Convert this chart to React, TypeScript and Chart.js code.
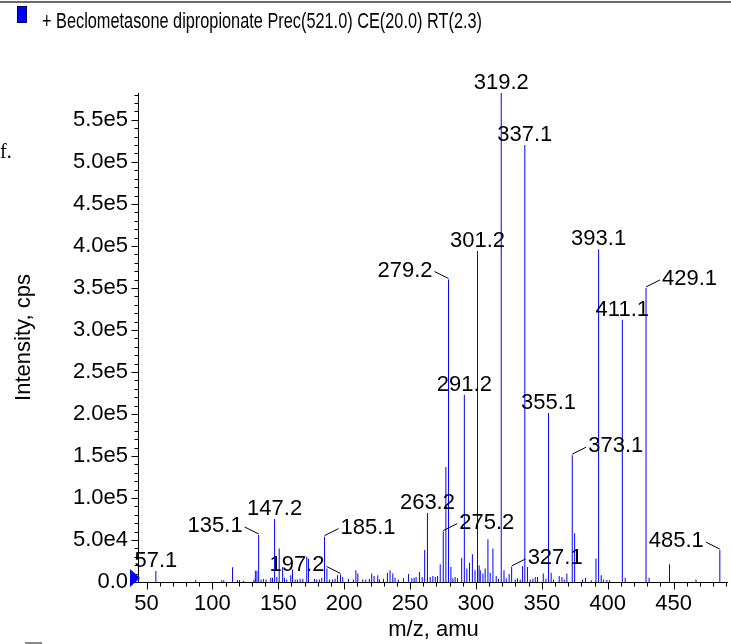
import React, { useEffect, useRef } from 'react';
import { Chart, registerables } from 'chart.js';

Chart.register(...registerables);

const TITLE = '+ Beclometasone dipropionate Prec(521.0) CE(20.0) RT(2.3)';
const X_TITLE = 'm/z, amu';
const Y_TITLE = 'Intensity, cps';

const MZ = [
  57.1, 87.3, 107.1, 108.6, 115.3, 119.0, 120.5, 123.5, 131.6, 132.6,
  133.8, 135.1, 136.9, 138.7, 140.7, 144.3, 145.6, 147.2, 148.9, 150.7,
  153.3, 154.7, 156.4, 159.5, 160.8, 162.8, 164.5, 166.6, 168.6, 171.6,
  172.9, 177.4, 179.2, 181.2, 183.0, 185.1, 186.9, 188.8, 191.1, 193.1,
  194.9, 197.2, 198.9, 203.2, 207.0, 208.9, 210.4, 214.1, 216.4, 219.1,
  220.9, 222.7, 225.5, 226.8, 229.8, 232.8, 234.8, 236.9, 238.6, 241.1,
  245.0, 248.8, 251.4, 253.1, 254.6, 257.1, 259.2, 261.1, 263.2, 265.3,
  267.3, 269.1, 270.8, 272.9, 275.2, 277.2, 279.2, 281.0, 282.5, 284.2,
  286.0, 289.2, 291.2, 293.1, 295.1, 297.3, 299.3, 301.2, 302.4, 303.3,
  305.3, 307.0, 309.1, 310.8, 312.9, 315.4, 317.1, 319.2, 321.3, 323.0,
  325.2, 327.1, 329.8, 331.5, 333.6, 335.4, 337.1, 339.1, 341.2, 343.2,
  345.0, 346.7, 351.1, 353.1, 355.1, 357.1, 358.9, 363.2, 365.3, 367.0,
  369.0, 373.1, 374.9, 380.9, 383.2, 387.5, 391.1, 393.1, 395.1, 396.9,
  399.4, 401.4, 411.1, 413.3, 429.1, 431.4, 446.9, 467.0, 485.1,
];

const INTENSITY = [
  13000, 2400, 2000, 2000, 17500, 2500, 2500, 1500, 3000, 13500,
  13500, 56000, 3000, 3500, 3000, 5000, 5000, 75000, 6000, 40000,
  18000, 5000, 3000, 8000, 15000, 3000, 3000, 4000, 4000, 30000,
  28000, 4000, 3000, 3000, 5000, 54000, 16000, 3000, 3000, 4000,
  8000, 9000, 6000, 4000, 3000, 14000, 10000, 3000, 3000, 4000,
  10000, 7000, 8000, 3000, 4000, 11000, 14000, 10000, 5000, 3000,
  4400, 9500, 4400, 5000, 6000, 12000, 6000, 38000, 82000, 6000,
  7000, 6000, 7000, 21000, 60000, 137000, 360000, 18000, 4400, 6000,
  4400, 29000, 223000, 16000, 23000, 33000, 14000, 394000, 20000, 14000,
  10000, 16000, 51000, 11000, 40000, 7000, 4000, 582000, 14000, 4400,
  9500, 18000, 3000, 4400, 3000, 19000, 520000, 18000, 3000, 4000,
  6000, 6000, 10000, 4000, 201000, 11000, 3000, 7000, 6000, 3000,
  10000, 151000, 58000, 3000, 5000, 2000, 28000, 396000, 8000, 3000,
  2500, 2000, 312000, 5000, 350000, 5000, 21000, 3000, 38000,
];

const X_TICKS = [50, 100, 150, 200, 250, 300, 350, 400, 450];
const X_TICK_LABELS = ['50', '100', '150', '200', '250', '300', '350', '400', '450'];
const Y_TICKS = [0, 50000, 100000, 150000, 200000, 250000, 300000, 350000, 400000, 450000, 500000, 550000];
const Y_TICK_LABELS = ['0.0', '5.0e4', '1.0e5', '1.5e5', '2.0e5', '2.5e5', '3.0e5', '3.5e5', '4.0e5', '4.5e5', '5.0e5', '5.5e5'];

const X_MIN = 44.3;
const X_MAX = 491.3;
const Y_MAX = 582000;
const X_MINOR_STEP = 10;
const Y_MINOR_STEP = 10000;

const PEAK_LABELS = [
  '57.1', '135.1', '147.2', '185.1', '197.2', '263.2', '275.2', '279.2', '291.2', '301.2',
  '319.2', '327.1', '337.1', '355.1', '373.1', '393.1', '411.1', '429.1', '485.1',
];
// label placement style: c = centred above, l = leader to the left, r = leader to the right
const PEAK_LABEL_SIDE = [
  'c', 'l', 'c', 'r', 'l', 'c', 'r', 'l', 'c', 'c',
  'c', 'r', 'c', 'c', 'r', 'c', 'c', 'r', 'l',
];

const FONT = '"Liberation Sans", Arial, Helvetica, sans-serif';

const decorPlugin = {
  id: 'decor',
  beforeDraw(chart: any) {
    const ctx = chart.ctx as CanvasRenderingContext2D;
    ctx.save();
    ctx.fillStyle = '#ffffff';
    ctx.fillRect(0, 0, chart.width, chart.height);
    // top rule
    ctx.fillStyle = '#6a6a6a';
    ctx.fillRect(0, 1, chart.width, 2);
    // legend swatch
    ctx.fillStyle = '#0000ff';
    ctx.fillRect(17, 6, 10, 17);
    ctx.strokeStyle = '#00005a';
    ctx.lineWidth = 1;
    ctx.strokeRect(17.5, 6.5, 9, 16);
    // legend text (narrow)
    ctx.font = '22px ' + FONT;
    const w = ctx.measureText(TITLE).width;
    ctx.translate(42, 28);
    ctx.scale(440 / w, 1);
    ctx.fillStyle = '#000';
    ctx.textAlign = 'left';
    ctx.textBaseline = 'alphabetic';
    ctx.fillText(TITLE, 0, 0);
    ctx.restore();

    ctx.save();
    ctx.fillStyle = '#000';
    ctx.font = '20px "Liberation Serif", serif';
    ctx.textAlign = 'left';
    ctx.textBaseline = 'alphabetic';
    ctx.fillText('f.', 0, 158);
    ctx.fillStyle = '#888';
    ctx.fillRect(25, 642, 17, 2);
    ctx.restore();
  },
  afterDraw(chart: any) {
    const ctx = chart.ctx as CanvasRenderingContext2D;
    const { chartArea } = chart;
    const xs = chart.scales.x;
    const ys = chart.scales.y;
    const left = Math.round(chartArea.left);
    const bottom = Math.round(chartArea.bottom);
    ctx.save();
    ctx.strokeStyle = '#000';
    ctx.lineWidth = 1;
    ctx.beginPath();
    // axis lines
    ctx.moveTo(left - 0.5, chartArea.top);
    ctx.lineTo(left - 0.5, bottom + 0.5);
    ctx.moveTo(left - 0.5, bottom + 0.5);
    ctx.lineTo(chartArea.right, bottom + 0.5);
    // y ticks
    for (let v = 0; v <= Y_MAX; v += Y_MINOR_STEP) {
      const y = Math.round(ys.getPixelForValue(v)) + 0.5;
      const len = v % 50000 === 0 ? 7 : 4;
      ctx.moveTo(left - 0.5 - len, y);
      ctx.lineTo(left - 0.5, y);
    }
    // x ticks
    for (let v = Math.ceil(X_MIN / X_MINOR_STEP) * X_MINOR_STEP; v <= X_MAX; v += X_MINOR_STEP) {
      const x = Math.round(xs.getPixelForValue(v)) + 0.5;
      const len = v % 50 === 0 ? 7 : 4;
      ctx.moveTo(x, bottom + 0.5);
      ctx.lineTo(x, bottom + 0.5 + len);
    }
    ctx.stroke();

    // zero-level marker
    const y0 = ys.getPixelForValue(0);
    ctx.fillStyle = '#0000ff';
    ctx.beginPath();
    ctx.moveTo(left - 9, y0 - 13);
    ctx.lineTo(left - 9, y0 + 5);
    ctx.lineTo(left + 1, y0 - 4);
    ctx.closePath();
    ctx.fill();

    // peak labels
    ctx.font = '22px ' + FONT;
    ctx.fillStyle = '#000';
    ctx.textBaseline = 'alphabetic';
    PEAK_LABELS.forEach((lab, i) => {
      const mz = parseFloat(lab);
      const j = MZ.indexOf(mz);
      if (j < 0) return;
      const px = xs.getPixelForValue(mz);
      const py = ys.getPixelForValue(INTENSITY[j]);
      const side = PEAK_LABEL_SIDE[i];
      if (side === 'c') {
        ctx.textAlign = 'center';
        ctx.fillText(lab, px, py - 4);
      } else {
        const dir = side === 'l' ? -1 : 1;
        const ex = px + dir * 14;
        const ey = py - 8;
        ctx.beginPath();
        ctx.moveTo(px, py - 1);
        ctx.lineTo(ex, ey);
        ctx.stroke();
        ctx.textAlign = side === 'l' ? 'right' : 'left';
        ctx.fillText(lab, ex + dir * 2, ey + 5);
      }
    });
    ctx.restore();
  },
};

export default function App() {
  const ref = useRef<HTMLCanvasElement | null>(null);
  useEffect(() => {
    if (!ref.current) return;
    const chart = new Chart(ref.current, {
      type: 'bar',
      data: {
        datasets: [
          {
            data: MZ.map((x, i) => ({ x, y: INTENSITY[i] })),
            backgroundColor: '#0000ff',
            borderWidth: 0,
            barThickness: 1,
            inflateAmount: 0,
          } as any,
        ],
      },
      options: {
        animation: false,
        responsive: false,
        devicePixelRatio: 1,
        events: [],
        layout: { padding: { top: 93, left: 0, right: 3, bottom: 0 } },
        plugins: { legend: { display: false }, tooltip: { enabled: false }, title: { display: false } },
        scales: {
          x: {
            type: 'linear',
            min: X_MIN,
            max: X_MAX,
            offset: false,
            grid: { display: false, offset: false, drawTicks: false },
            border: { display: false },
            afterBuildTicks: (s: any) => {
              s.ticks = X_TICKS.map((v) => ({ value: v }));
            },
            afterFit: (s: any) => {
              s.height = 62;
              s.paddingLeft = 0;
              s.paddingRight = 0;
              s.paddingTop = 0;
              s.paddingBottom = 0;
            },
            ticks: {
              autoSkip: false,
              maxRotation: 0,
              padding: 9,
              color: '#000',
              font: { family: FONT, size: 22 },
              callback: (_v: any, i: number) => X_TICK_LABELS[i],
            },
            title: {
              display: true,
              text: X_TITLE,
              color: '#000',
              font: { family: FONT, size: 22 },
              padding: { top: 0, bottom: 1 },
            },
          },
          y: {
            type: 'linear',
            min: 0,
            max: Y_MAX,
            grid: { display: false, drawTicks: false },
            border: { display: false },
            afterBuildTicks: (s: any) => {
              s.ticks = Y_TICKS.map((v) => ({ value: v }));
            },
            afterFit: (s: any) => {
              s.width = 139;
              s.paddingLeft = 0;
              s.paddingRight = 0;
              s.paddingTop = 0;
              s.paddingBottom = 0;
            },
            ticks: {
              autoSkip: false,
              padding: 11,
              color: '#000',
              font: { family: FONT, size: 22 },
              callback: (_v: any, i: number) => Y_TICK_LABELS[i],
            },
            title: {
              display: true,
              text: Y_TITLE,
              color: '#000',
              font: { family: FONT, size: 22 },
              padding: { top: 11, bottom: 0 },
            },
          },
        },
      } as any,
      plugins: [decorPlugin],
    });
    return () => chart.destroy();
  }, []);
  return (
    <div style={{ position: 'absolute', left: 0, top: 0, width: 731, height: 644 }}>
      <canvas ref={ref} width={731} height={644} style={{ display: 'block' }} />
    </div>
  );
}
